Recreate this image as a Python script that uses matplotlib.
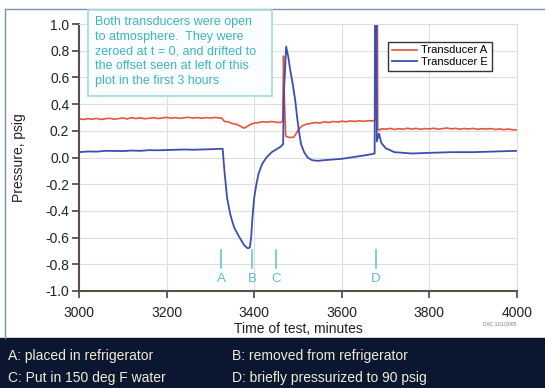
import matplotlib.pyplot as plt
from matplotlib.lines import Line2D
from matplotlib.patches import Rectangle

plt.rcParams["font.family"] = ["Liberation Sans", "DejaVu Sans"]

# Transducer A (red)
time_a = [3000, 3010, 3020, 3030, 3040, 3050, 3060, 3070, 3080, 3090,
          3100, 3110, 3120, 3130, 3140, 3150, 3160, 3170, 3180, 3190,
          3200, 3210, 3220, 3230, 3240, 3250, 3260, 3270, 3280, 3290,
          3300, 3310, 3320, 3326, 3332, 3340, 3350, 3360, 3370, 3376,
          3382, 3390, 3400, 3410, 3420, 3430, 3440, 3450, 3460, 3465,
          3467, 3469, 3472, 3480, 3490, 3496, 3502, 3510, 3520, 3530,
          3540, 3550, 3560, 3570, 3580, 3590, 3600, 3610, 3620, 3630,
          3640, 3650, 3660, 3670, 3678, 3679, 3681, 3682, 3686, 3690,
          3700, 3710, 3720, 3730, 3740, 3750, 3760, 3770, 3780, 3790,
          3800, 3810, 3820, 3830, 3840, 3850, 3860, 3870, 3880, 3890,
          3900, 3910, 3920, 3930, 3940, 3950, 3960, 3970, 3980, 3990, 4000]
pres_a = [0.290, 0.285, 0.291, 0.287, 0.293, 0.285, 0.290, 0.294, 0.287, 0.291,
          0.296, 0.289, 0.298, 0.292, 0.297, 0.290, 0.294, 0.298, 0.292, 0.296,
          0.301, 0.294, 0.299, 0.293, 0.298, 0.301, 0.295, 0.299, 0.294, 0.299,
          0.296, 0.300, 0.297, 0.295, 0.270, 0.268, 0.255, 0.248, 0.232, 0.220,
          0.228, 0.245, 0.258, 0.262, 0.268, 0.265, 0.270, 0.264, 0.262, 0.270,
          0.760, 0.420, 0.160, 0.150, 0.152, 0.180, 0.215, 0.238, 0.250, 0.256,
          0.262, 0.258, 0.268, 0.262, 0.270, 0.265, 0.272, 0.268, 0.274, 0.270,
          0.275, 0.271, 0.276, 0.274, 0.280, 1.300, 1.300, 0.210, 0.205, 0.215,
          0.212, 0.218, 0.210, 0.216, 0.212, 0.219, 0.213, 0.218, 0.211, 0.217,
          0.214, 0.219, 0.212, 0.216, 0.221, 0.214, 0.218, 0.212, 0.217, 0.213,
          0.218, 0.211, 0.216, 0.213, 0.217, 0.210, 0.214, 0.209, 0.213, 0.208, 0.207]

# Transducer E (blue)
time_e = [3000, 3020, 3040, 3060, 3080, 3100, 3120, 3140, 3160, 3180,
          3200, 3220, 3240, 3260, 3280, 3300, 3320, 3328, 3332, 3338,
          3345, 3350, 3355, 3360, 3365, 3372, 3378, 3385, 3390, 3393,
          3396, 3400, 3405, 3410, 3418, 3428, 3440, 3450, 3460, 3466,
          3468, 3473, 3478, 3482, 3488, 3494, 3498, 3502, 3507, 3514,
          3522, 3532, 3545, 3560, 3580, 3600, 3620, 3640, 3660, 3675,
          3676, 3679, 3680, 3685, 3690, 3700, 3720, 3760, 3800, 3850,
          3900, 3950, 4000]
pres_e = [0.040, 0.045, 0.044, 0.050, 0.049, 0.048, 0.052, 0.050, 0.055, 0.054,
          0.056, 0.058, 0.060, 0.058, 0.060, 0.062, 0.065, 0.065, -0.100, -0.300,
          -0.420, -0.480, -0.530, -0.560, -0.590, -0.630, -0.660, -0.680, -0.675, -0.600,
          -0.450, -0.300, -0.200, -0.120, -0.050, 0.000, 0.040, 0.060, 0.080, 0.100,
          0.500, 0.830, 0.750, 0.660, 0.550, 0.420, 0.300, 0.200, 0.100, 0.040,
          0.000, -0.020, -0.025, -0.020, -0.015, -0.010, 0.000, 0.010, 0.020, 0.030,
          1.300, 1.300, 0.120, 0.180, 0.110, 0.070, 0.040, 0.030, 0.035, 0.040,
          0.040, 0.045, 0.050]

event_labels = ["A", "B", "C", "D"]
event_times = [3325, 3395, 3450, 3677]

note = ("Both transducers were open\nto atmosphere.  They were\n"
        "zeroed at t = 0, and drifted to\nthe offset seen at left of this\n"
        "plot in the first 3 hours")
footer_left = ["A: placed in refrigerator", "C: Put in 150 deg F water"]
footer_right = ["B: removed from refrigerator", "D: briefly pressurized to 90 psig"]

W, H = 545, 388
fig = plt.figure(figsize=(W / 100, H / 100), dpi=100)

# frame and dark footer band
fig.add_artist(Line2D([5 / W, 1], [1 - 9 / H, 1 - 9 / H], color="#7d8fb3", lw=1))
fig.add_artist(Line2D([5 / W, 5 / W], [1 - 9 / H, 50 / H], color="#7d8fb3", lw=1))
fig.add_artist(Rectangle((0, 0), 1, 50 / H, color="#0b1730", zorder=0))
for i in range(2):
    y = 1 - (356 + 22 * i) / H
    fig.text(8 / W, y, footer_left[i], color="#f1ecd8", fontsize=10, va="center")
    fig.text(232 / W, y, footer_right[i], color="#f1ecd8", fontsize=10, va="center")

ax = fig.add_axes([79 / W, 1 - 291 / H, 438 / W, 267 / H])
ax.plot(time_a, pres_a, color="#e4553c", lw=1.2, label="Transducer A")
ax.plot(time_e, pres_e, color="#3b4fb2", lw=1.3, label="Transducer E")

ax.set_xlim(3000, 4000)
ax.set_ylim(-1.0, 1.0)
ax.set_xticks(range(3000, 4001, 200))
ax.set_yticks([-1.0, -0.8, -0.6, -0.4, -0.2, 0.0, 0.2, 0.4, 0.6, 0.8, 1.0])
ax.set_yticklabels([f"{v:.1f}" for v in ax.get_yticks()])
ax.grid(color="#dedede", lw=0.8)
ax.set_axisbelow(True)
for s in ["top", "right"]:
    ax.spines[s].set_color("#dedede")
    ax.spines[s].set_linewidth(0.8)
for s in ["left", "bottom"]:
    ax.spines[s].set_color("#5a5048")
    ax.spines[s].set_linewidth(1.5)
ax.tick_params(direction="out", length=5, width=1.3, color="#5a5048",
               labelsize=10, labelcolor="#222222", pad=2)
ax.tick_params(axis="x", pad=6)
ax.set_xlabel("Time of test, minutes", fontsize=10, color="#222222", labelpad=1)
ax.set_ylabel("Pressure, psig", fontsize=10, color="#222222", labelpad=14)

for lab, t in zip(event_labels, event_times):
    ax.plot([t, t], [-0.69, -0.83], color="#6cc4cc", lw=1.2)
    ax.text(t, -0.91, lab, color="#5dbfc7", fontsize=9.5, ha="center", va="center")

# note box (figure pixels)
fig.add_artist(Rectangle((88 / W, 1 - 96 / H), 184 / W, 86 / H,
                         fc="#fbfefe", ec="#a9dbe0", lw=1.3, zorder=5))
fig.text(95 / W, 1 - 16 / H, note, color="#3fb3c0", fontsize=9, va="top",
         ha="left", linespacing=1.3, zorder=6)

leg = ax.legend(loc="upper right", bbox_to_anchor=(0.955, 0.955), fontsize=8,
                handlelength=2.2, handletextpad=0.4, borderpad=0.35,
                labelspacing=0.15, fancybox=False, framealpha=1, edgecolor="#333333")
leg.get_frame().set_linewidth(1.0)

fig.text(500 / W, 1 - 324 / H, "DAC 11/1/2005", fontsize=3.5, color="#777777",
         ha="center", va="center")

fig.savefig("out.png", dpi=100)
